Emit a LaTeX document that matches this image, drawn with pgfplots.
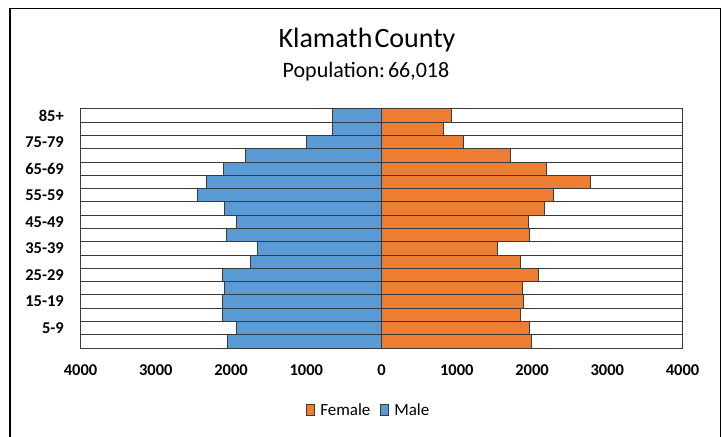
\documentclass[border=0pt]{standalone}
\usepackage{fontspec}
\setmainfont{Carlito}
\usepackage{pgfplots}
\pgfplotsset{compat=1.18}
\definecolor{mblue}{HTML}{5B9BD5}
\definecolor{forange}{HTML}{ED7D31}
\definecolor{edge}{HTML}{3A3A3A}
\begin{document}
\begin{tikzpicture}
\begin{axis}[
 name=ax, at={(0pt,0pt)}, anchor=south west,
 scale only axis, width=602pt, height=239pt,
 xmin=-4000, xmax=4000, ymin=-0.5, ymax=17.5,
 xbar, bar width=1, bar shift=0pt,
 clip=false,
 axis line style={draw=none},
 major tick length=0pt,
 xtick={-4000,-3000,...,4000},
 xticklabels={4000,3000,2000,1000,0,1000,2000,3000,4000},
 ytick={1,3,...,17},
 yticklabels={5-9,15-19,25-29,35-39,45-49,55-59,65-69,75-79,85+},
 tick label style={font=\fontsize{16.5}{18}\selectfont\bfseries, inner sep=0pt},
 xticklabel style={yshift=-16pt},
 yticklabel style={xshift=-16.5pt},
 legend style={at={(0.479,-0.259)}, anchor=center, draw=none, fill=none,
   legend columns=2, font=\fontsize{17}{19}\selectfont,
   /tikz/every odd column/.append style={column sep=3pt},
   /tikz/every even column/.append style={column sep=8pt}},
 legend image code/.code={\draw[#1, line width=0.9pt] (0pt,-5.5pt) rectangle (8pt,5.5pt);},
]
\addplot[fill=white, draw=edge, line width=1pt, forget plot] coordinates {
(-4000,0) (-4000,1) (-4000,2) (-4000,3) (-4000,4) (-4000,5) (-4000,6) (-4000,7) (-4000,8)
(-4000,9) (-4000,10) (-4000,11) (-4000,12) (-4000,13) (-4000,14) (-4000,15) (-4000,16) (-4000,17)};
\addplot[fill=white, draw=edge, line width=1pt, forget plot] coordinates {
(4000,0) (4000,1) (4000,2) (4000,3) (4000,4) (4000,5) (4000,6) (4000,7) (4000,8)
(4000,9) (4000,10) (4000,11) (4000,12) (4000,13) (4000,14) (4000,15) (4000,16) (4000,17)};
% Female
\addplot[fill=forange, draw=edge, line width=1pt] coordinates {
(1993,0) (1971,1) (1852,2) (1891,3) (1874,4) (2091,5) (1852,6) (1542,7) (1971,8)
(1953,9) (2171,10) (2290,11) (2782,12) (2188,13) (1714,14) (1085,15) (828,16) (930,17)};
\addlegendentry{Female}
% Male
\addplot[fill=mblue, draw=edge, line width=1pt] coordinates {
(-2046,0) (-1927,1) (-2117,2) (-2117,3) (-2082,4) (-2117,5) (-1745,6) (-1648,7) (-2064,8)
(-1927,9) (-2082,10) (-2441,11) (-2321,12) (-2104,13) (-1807,14) (-997,15) (-647,16) (-647,17)};
\addlegendentry{Male}
\end{axis}
\begin{scope}[shift={(ax.south west)}, x=1pt, y=1pt]
\path[use as bounding box] (-80.5,-88) rectangle (641.5,348);
\draw[line width=1.6pt, black] (-70.5,-90) -- (-70.5,339.5) -- (640,339.5) -- (640,-90);
\node[anchor=base, inner sep=0pt, font=\fontsize{28}{32}\selectfont] at (286.5,300) {Klamath\hspace{2pt}County};
\node[anchor=base, inner sep=0pt, font=\fontsize{22}{25}\selectfont] at (285.5,270.3) {Population:\hspace{3pt}66,018};
\end{scope}
\end{tikzpicture}
\end{document}
